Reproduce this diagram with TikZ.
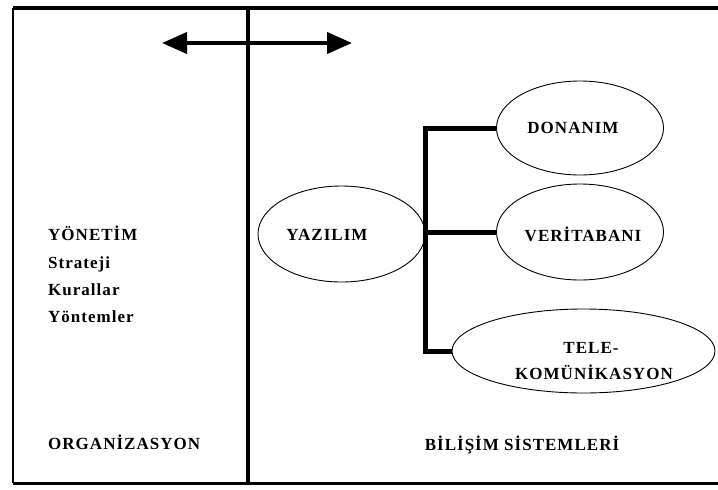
\documentclass[tikz,border=0pt]{standalone}
\usepackage{fontspec}
\setmainfont{Liberation Serif}
\newfontfamily\lblfont{Liberation Serif Bold}[LetterSpace=6]
\usetikzlibrary{arrows.meta,shapes.geometric}

\tikzset{
  edge top/.style={line width=3.5pt},
  edge side/.style={line width=1.8pt},
  edge bottom/.style={line width=3pt},
  divider/.style={line width=4pt},
  bubble/.style={draw, ellipse, line width=0.9pt, inner sep=0pt},
  lbl/.style={font=\fontsize{17}{26}\lblfont, inner sep=0pt},
  bar/.style={line width=5pt},
  twoway/.style={line width=4pt,
    {Triangle[length=25pt,width=21pt]}-{Triangle[length=25pt,width=21pt]}}
}

\begin{document}
\begin{tikzpicture}[x=1pt,y=-1pt]
  \path[use as bounding box, fill=white] (0,0) rectangle (718,490);

  % frame and divider
  \coordinate (tl) at (13,8);
  \coordinate (tr) at (718,8);
  \coordinate (bl) at (13,483);
  \coordinate (br) at (718,483);
  \coordinate (dt) at (248,8);
  \coordinate (db) at (248,483);
  \draw[edge top] (tr) -- (tl);
  \draw[edge side] (tl) -- (bl);
  \draw[edge bottom] (bl) -- (br);
  \draw[divider] (dt) -- (db);

  % two-way arrow across the divider
  \coordinate (aL) at (162,43);
  \coordinate (aR) at (352,43);
  \draw[twoway] (aL) -- (aR);

  % organisation side
  \node[lbl, anchor=base west] (yon) at (48,240) {YÖNETİM};
  \node[lbl, anchor=base west] (str) at (48,268) {Strateji};
  \node[lbl, anchor=base west] (kur) at (48,295) {Kurallar};
  \node[lbl, anchor=base west] (ytm) at (48,322) {Yöntemler};
  \node[lbl, anchor=base west] (org) at (48,449) {ORGANİZASYON};

  % information systems side
  \node[bubble, minimum width=167pt, minimum height=96pt] (yaz) at (341.5,234) {};
  \node[bubble, minimum width=167pt, minimum height=94pt] (don) at (580,128) {};
  \node[bubble, minimum width=167pt, minimum height=96pt] (ver) at (580,232) {};
  \node[bubble, minimum width=263pt, minimum height=84pt] (tel) at (583.5,351) {};

  \node[lbl, anchor=base] (yazT) at (327,240) {YAZILIM};
  \node[lbl, anchor=base] (donT) at (573,133) {DONANIM};
  \node[lbl, anchor=base] (verT) at (583,241) {VERİTABANI};
  \node[lbl, anchor=base] (telT) at (591,353) {TELE-};
  \node[lbl, anchor=base] (komT) at (594,379) {KOMÜNİKASYON};

  \node[lbl, anchor=base] (bis) at (522,450) {BİLİŞİM SİSTEMLERİ};

  % bracket joining the software bubble to the others
  \draw[bar] (don.west) -- (don.west -| yaz.east) -- (tel.west -| yaz.east) -- (tel.west);
  \draw[bar] (ver.west -| yaz.east) -- (ver.west);
\end{tikzpicture}
\end{document}
